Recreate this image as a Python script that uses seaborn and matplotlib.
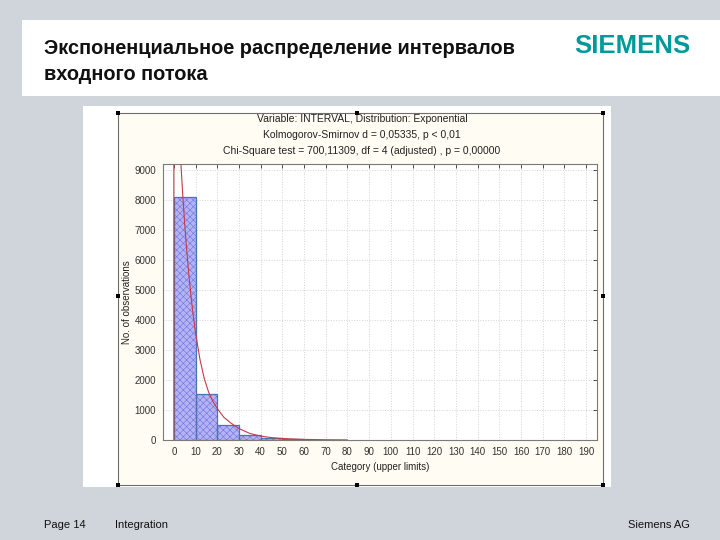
import matplotlib
matplotlib.use('Agg')
import matplotlib.pyplot as plt
from matplotlib.patches import Rectangle
import seaborn as sns

# histogram bins (upper limits 10..80) and counts
bin_edges = [0, 10, 20, 30, 40, 50, 60, 70, 80]
bin_counts = [8110, 1530, 490, 170, 60, 25, 10, 8]

# fitted exponential curve
curve_x = [0, 0, 1, 2, 3, 4, 5, 6, 7, 8, 9, 10, 12, 14, 16, 18, 20, 23, 26, 30, 35, 40, 45, 50, 60, 70, 80]
curve_y = [0, 14500, 12600, 10950, 9530, 8280, 7200, 6260, 5440, 4730, 4110, 3570, 2700, 2050, 1600,
           1280, 1050, 760, 580, 380, 220, 130, 80, 50, 20, 8, 3]

x_ticks = list(range(0, 200, 10))
y_ticks = list(range(0, 10000, 1000))

header = ['Variable: INTERVAL, Distribution: Exponential',
          'Kolmogorov-Smirnov d = 0,05335, p < 0,01',
          'Chi-Square test = 700,11309, df = 4 (adjusted) , p = 0,00000']

sns.set_theme(style='white')
plt.rcParams['font.family'] = ['Liberation Sans', 'DejaVu Sans']
plt.rcParams['hatch.linewidth'] = 0.45

W, H = 720, 540
fig = plt.figure(figsize=(7.2, 5.4), dpi=100)
fig.patch.set_facecolor('#D0D4DB')


def box(x0, y0, x1, y1, **kw):
    # rectangle in pixel coords, origin top-left
    r = Rectangle((x0 / W, 1 - y1 / H), (x1 - x0) / W, (y1 - y0) / H,
                  transform=fig.transFigure, **kw)
    fig.add_artist(r)


box(22, 20, 720, 96, facecolor='white', edgecolor='none', zorder=-5)
box(83, 106, 611, 487, facecolor='white', edgecolor='none', zorder=-5)
box(118, 113, 603, 485, facecolor='#FFFCF3', edgecolor='#6E6E6E', lw=0.8, zorder=-4)

# selection handles on the picture frame
for hx, hy in [(118, 113), (357, 113), (603, 113), (118, 296), (603, 296),
               (118, 485), (357, 485), (603, 485)]:
    box(hx - 2, hy - 2, hx + 2, hy + 2, facecolor='black', edgecolor='none', zorder=10)

ax = fig.add_axes([163 / W, 1 - 440 / H, 434 / W, 276 / H])
ax.set_facecolor('white')

centers = [(a + b) / 2 for a, b in zip(bin_edges[:-1], bin_edges[1:])]
# hatched fill first (edge colour drives the hatch colour), then the outline
sns.histplot(x=centers, weights=bin_counts, bins=bin_edges, ax=ax,
             color='#B4B4F4', edgecolor='#7676E2', linewidth=0, alpha=1)
for p in ax.patches:
    p.set_hatch('xxxxx')
sns.histplot(x=centers, weights=bin_counts, bins=bin_edges, ax=ax,
             fill=False, edgecolor='#2626A8', linewidth=0.9)

sns.lineplot(x=curve_x, y=curve_y, estimator=None, sort=False, ax=ax,
             color='#C83A48', lw=0.8)

ax.set_xlim(-5, 195)
ax.set_ylim(0, 9200)
ax.set_xticks(x_ticks)
ax.set_yticks(y_ticks)
ax.grid(True, color='#D4D4D4', linestyle=':', lw=0.7)
ax.set_axisbelow(True)
ax.tick_params(direction='in', length=3, width=0.6, top=True, right=True,
               labelsize=7, colors='#333333', pad=5)
for s in ax.spines.values():
    s.set_color('#7A7A7A')
    s.set_linewidth(0.8)
ax.set_xlabel('Category (upper limits)', fontsize=7, color='#222222', labelpad=4)
ax.set_ylabel('No. of observations', fontsize=7, color='#222222', labelpad=2)

for i, line in enumerate(header):
    fig.text(362 / W, 1 - (119 + 16 * i) / H, line, ha='center', va='center',
             fontsize=7.5, color='#222222')

# slide texts
fig.text(44 / W, 1 - 48 / H, 'Экспоненциальное распределение интервалов',
         fontsize=14.4, fontweight='bold', color='#111111', va='center')
fig.text(44 / W, 1 - 74 / H, 'входного потока',
         fontsize=14.4, fontweight='bold', color='#111111', va='center')
fig.text(690 / W, 1 - 46 / H, 'SIEMENS', fontsize=18.5, fontweight='bold',
         color='#009999', ha='right', va='center')
fig.text(44 / W, 1 - 525 / H, 'Page 14', fontsize=8, color='#111111', va='center')
fig.text(115 / W, 1 - 525 / H, 'Integration', fontsize=8, color='#111111', va='center')
fig.text(690 / W, 1 - 525 / H, 'Siemens AG', fontsize=8, color='#111111',
         ha='right', va='center')

fig.savefig('out.png', dpi=100, facecolor=fig.get_facecolor())
